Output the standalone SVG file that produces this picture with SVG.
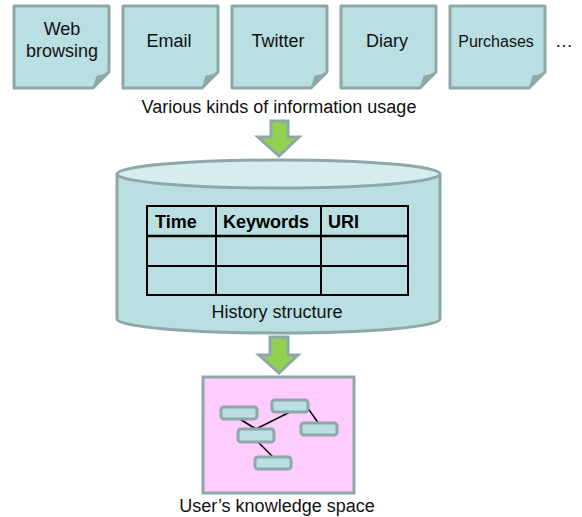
<svg xmlns="http://www.w3.org/2000/svg" width="582" height="517" viewBox="0 0 582 517">
  <defs>
    <style>
      .lbl { font-family: "Liberation Sans", Arial, sans-serif; font-size: 18px; fill: #111; }
      .hdr { font-family: "Liberation Sans", Arial, sans-serif; font-size: 18px; font-weight: bold; fill: #000; }
      .note { fill: #b9dfe2; stroke: #8ea8a8; stroke-width: 3; stroke-linejoin: round; }
      .flap { fill: #8ea8a8; stroke: #8ea8a8; stroke-width: 1; }
      .arrow { fill: #92d050; stroke: #8ea8a8; stroke-width: 3; stroke-linejoin: miter; }
      .cyl { fill: #b9dfe2; stroke: #8ea8a8; stroke-width: 3; }
      .cyltop { fill: #d5edef; stroke: #8ea8a8; stroke-width: 3; }
      .grid { stroke: #000; stroke-width: 2; fill: none; }
      .kn { fill: #b9dfe2; stroke: #8ea8a8; stroke-width: 3; }
      .link { stroke: #000; stroke-width: 1.5; }
    </style>
    <!-- sticky note with a folded bottom-right corner -->
    <g id="noteShape">
      <path class="note" d="M0,0 H95 V66 L79,82 H0 Z"/>
      <path class="flap" d="M79,82 C81,77 82,73 83,70 C87,70 91,68 95,66 Z"/>
    </g>
  </defs>

  <!-- sources of information usage -->
  <g id="note-web">
    <use href="#noteShape" x="14" y="6"/>
    <text class="lbl" x="62" y="35" text-anchor="middle">Web</text>
    <text class="lbl" x="62" y="57" text-anchor="middle">browsing</text>
  </g>
  <g id="note-email">
    <use href="#noteShape" x="123" y="6"/>
    <text class="lbl" x="169" y="47" text-anchor="middle">Email</text>
  </g>
  <g id="note-twitter">
    <use href="#noteShape" x="232" y="6"/>
    <text class="lbl" x="278" y="47" text-anchor="middle">Twitter</text>
  </g>
  <g id="note-diary">
    <use href="#noteShape" x="341" y="6"/>
    <text class="lbl" x="387" y="47" text-anchor="middle">Diary</text>
  </g>
  <g id="note-purchases">
    <use href="#noteShape" x="450" y="6"/>
    <text class="lbl" x="496" y="47" text-anchor="middle" style="font-size:16px">Purchases</text>
  </g>
  <g id="more">
    <text class="lbl" x="555" y="47">…</text>
  </g>
  <text class="lbl" x="279" y="113" text-anchor="middle">Various kinds of information usage</text>

  <!-- flow arrows -->
  <g id="connectors">
    <path class="arrow" d="M271,121 H288 V137 H299 L279,156 L258,137 H271 Z"/>
    <path class="arrow" d="M270,337 H288 V355 H298 L279,373 L259,355 H270 Z"/>
  </g>

  <!-- history store -->
  <g id="history">
    <path class="cyl" d="M117,174 V319 A161.5,14 0 0 0 440,319 V174"/>
    <ellipse class="cyltop" cx="278.5" cy="174" rx="161.5" ry="14"/>
    <rect class="grid" x="147" y="206" width="261" height="89"/>
    <line class="grid" x1="147" y1="236" x2="408" y2="236" style="stroke-width:2.5"/>
    <line class="grid" x1="147" y1="266" x2="408" y2="266"/>
    <line class="grid" x1="216" y1="206" x2="216" y2="295"/>
    <line class="grid" x1="321" y1="206" x2="321" y2="295"/>
    <text class="hdr" x="155" y="228">Time</text>
    <text class="hdr" x="223" y="228">Keywords</text>
    <text class="hdr" x="328" y="228">URI</text>
    <text class="lbl" x="277" y="318" text-anchor="middle">History structure</text>
  </g>

  <!-- knowledge space -->
  <g id="knowledge">
    <rect x="203" y="377" width="151" height="116" fill="#ffccff" stroke="#8ea8a8" stroke-width="3"/>
    <g id="knowledge-links">
      <line class="link" x1="238" y1="418" x2="256" y2="429"/>
      <line class="link" x1="256" y1="429" x2="290" y2="412"/>
      <line class="link" x1="307" y1="407" x2="319" y2="424"/>
      <line class="link" x1="257" y1="441" x2="273" y2="457"/>
    </g>
    <rect class="kn" x="221" y="407" width="36" height="12" rx="3"/>
    <rect class="kn" x="272" y="400" width="36" height="12" rx="3"/>
    <rect class="kn" x="301" y="423" width="36" height="12" rx="3"/>
    <rect class="kn" x="238" y="429" width="36" height="13" rx="3"/>
    <rect class="kn" x="255" y="457" width="36" height="12" rx="3"/>
    <text class="lbl" x="277" y="512" text-anchor="middle">User’s knowledge space</text>
  </g>
</svg>
